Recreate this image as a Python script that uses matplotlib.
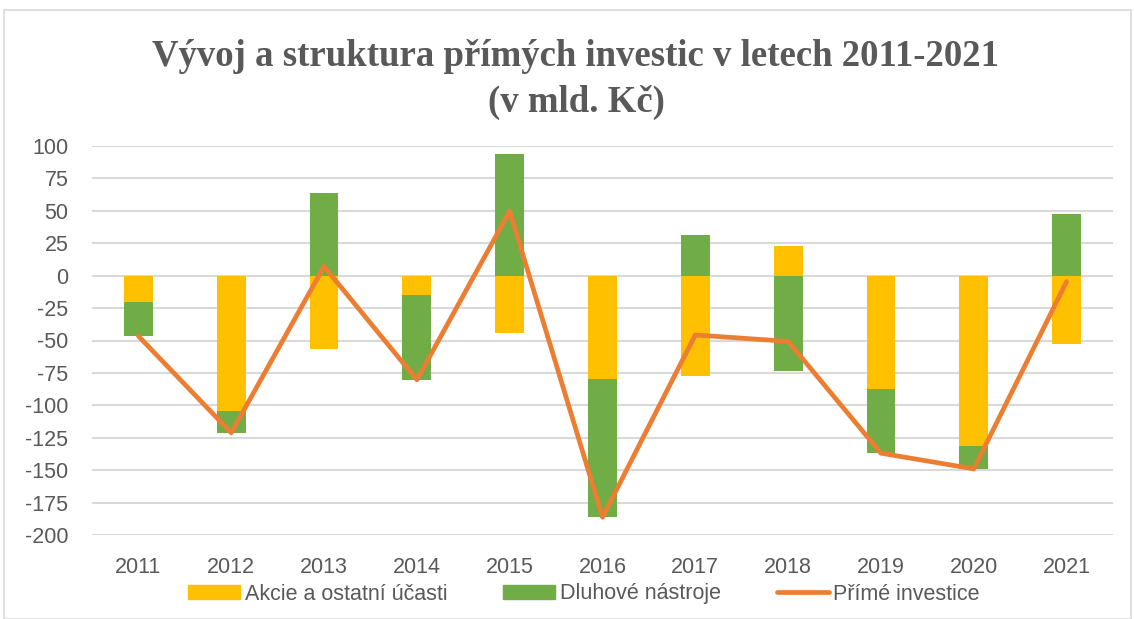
import numpy as np
import matplotlib.pyplot as plt
from matplotlib.lines import Line2D
from matplotlib.patches import Patch, Rectangle

plt.rcParams["axes.unicode_minus"] = False

# ================= DATA =================
years = ["2011", "2012", "2013", "2014", "2015", "2016",
         "2017", "2018", "2019", "2020", "2021"]
akcie = [-20.6, -104.5, -56.4, -15.2, -44.0, -79.8, -77.4, 22.9, -87.5, -131.2, -52.5]
dluhove = [-26.0, -16.7, 63.5, -65.1, 93.7, -106.5, 31.7, -73.6, -49.4, -17.8, 47.9]
prime = [a + d for a, d in zip(akcie, dluhove)]

title = "Vývoj a struktura přímých investic v letech 2011-2021\n(v mld. Kč)"
labels = ["Akcie a ostatní účasti", "Dluhové nástroje", "Přímé investice"]

YELLOW = "#FFC000"
GREEN = "#70AD47"
ORANGE = "#ED7D31"
GRAY = "#595959"

# ================= FIGURE =================
fig = plt.figure(figsize=(11.34, 6.19), dpi=100)
ax = fig.add_axes([92 / 1134, 1 - 535 / 619, (1113 - 92) / 1134, (535 - 146) / 619])

# outer chart border
fig.patches.append(Rectangle((4 / 1134, 0), (1131 - 4) / 1134, 1 - 10 / 619,
                             transform=fig.transFigure, fill=False,
                             edgecolor="#d9d9d9", lw=1.2))

x = np.arange(len(years))
a = np.array(akcie)
d = np.array(dluhove)

# excel-like stacking: positives up from 0, negatives down from 0
pos = np.zeros(len(x))
neg = np.zeros(len(x))
for vals, col in [(a, YELLOW), (d, GREEN)]:
    bottom = np.where(vals >= 0, pos, neg)
    ax.bar(x, vals, 0.31, bottom=bottom, color=col, zorder=2)
    pos = pos + np.where(vals >= 0, vals, 0)
    neg = neg + np.where(vals < 0, vals, 0)

ax.plot(x, prime, color=ORANGE, lw=3.4, solid_joinstyle="round",
        solid_capstyle="round", zorder=3)

ax.set_ylim(-200, 100)
ax.set_xlim(-0.5, len(x) - 0.5)
ax.set_yticks(np.arange(-200, 101, 25))
ax.set_xticks(x)
ax.set_xticklabels(years)
ax.grid(axis="y", color="#d9d9d9", lw=1.5, zorder=0)
ax.set_axisbelow(True)
for s in ax.spines.values():
    s.set_visible(False)
ax.tick_params(length=0, colors=GRAY, labelsize=15.5)
ax.tick_params(axis="y", pad=17)
ax.tick_params(axis="x", pad=16)
for t in ax.get_xticklabels() + ax.get_yticklabels():
    t.set_family("Liberation Sans")

fig.text(576 / 1134, 1 - 79.5 / 619, title, ha="center", va="center",
         family="Liberation Serif", fontweight="bold", fontsize=26.5,
         color=GRAY, linespacing=1.42)

handles = [Patch(color=YELLOW), Patch(color=GREEN),
           Line2D([], [], color=ORANGE, lw=3.4, solid_capstyle="round")]
leg = fig.legend(handles, labels, loc="center", ncol=3,
                 bbox_to_anchor=(0.515, 1 - 594 / 619), frameon=False,
                 prop={"family": "Liberation Sans", "size": 15.5},
                 handlelength=2.4, handleheight=0.6, handletextpad=0.23,
                 columnspacing=2.6, labelcolor=GRAY)

fig.savefig("out.png", dpi=100)
